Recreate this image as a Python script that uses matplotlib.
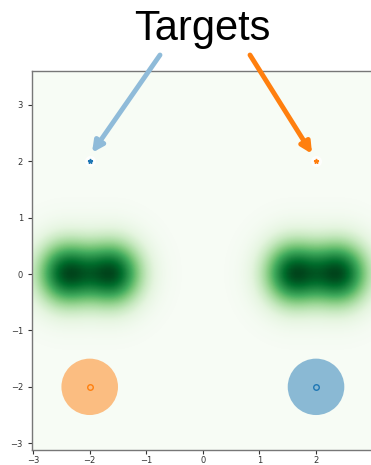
import numpy as np
import matplotlib
matplotlib.use('Agg')
import matplotlib.pyplot as plt

# данные
blob_x = [-2.45, -1.6, 1.6, 2.45]   # центры гауссиан
blob_y = [0.0, 0.0, 0.0, 0.0]
blob_sx = 0.37
blob_sy = 0.41
target_x = [-2, 2]
target_y = [2, 2]
target_colors = ['tab:blue', 'tab:orange']
agent_x = [-2, 2]
agent_y = [-2, -2]
agent_colors = ['tab:orange', 'tab:blue']
agent_radius = 0.5
ticks = [-3, -2, -1, 0, 1, 2, 3]

fig = plt.figure(figsize=(3.71, 4.65), dpi=100)
W, H = 371, 465
ax = fig.add_axes([32 / W, 15 / H, (372.6 - 32) / W, (450 - 71) / H])
xlim = (-3.02, 3.0)
ylim = (-3.12, 3.6)

# плотность
gx = np.linspace(xlim[0], xlim[1], 90)
gy = np.linspace(ylim[0], ylim[1], 100)
XX, YY = np.meshgrid(gx, gy)
Z = np.zeros_like(XX)
for bx, by in zip(blob_x, blob_y):
    Z += np.exp(-(XX - bx) ** 2 / (2 * blob_sx ** 2) - (YY - by) ** 2 / (2 * blob_sy ** 2))
ax.imshow(Z, cmap='Greens', origin='lower', extent=(xlim[0], xlim[1], ylim[0], ylim[1]),
          aspect='auto', interpolation='bilinear', vmin=0, vmax=Z.max())

for x, y, c in zip(agent_x, agent_y, agent_colors):
    ax.add_patch(plt.Circle((x, y), agent_radius, color=c, alpha=0.5, lw=0))
    ax.plot(x, y, 'o', mfc='none', mec=c, ms=4, mew=1)

for x, y, c in zip(target_x, target_y, target_colors):
    ax.plot(x, y, 'o', color='white', ms=7, alpha=0.8)
    ax.plot(x, y, '*', color=c, ms=3.5)

ax.set_xlim(xlim)
ax.set_ylim(ylim)
ax.set_xticks(ticks)
ax.set_yticks(ticks)
ax.tick_params(labelsize=6, colors='#333333', length=3, width=0.8)
ax.tick_params(axis='x', pad=1.5)
for s in ax.spines.values():
    s.set_color('#777777')
    s.set_linewidth(1)

fig.text(202 / W, 1 - 29 / H, 'Targets', fontsize=30, family='Liberation Sans',
         ha='center', va='center')

# стрелки
arrow_start = [(160, 55), (250, 55)]
arrow_colors = ['#8fbbd9', '#ff7f0e']
arrow_end = [(-1.96, 2.15), (1.93, 2.13)]
for (sx, sy), (ex, ey), c in zip(arrow_start, arrow_end, arrow_colors):
    ax.annotate('', xy=(ex, ey), xycoords='data',
                xytext=(sx / W, 1 - sy / H), textcoords='figure fraction',
                arrowprops=dict(arrowstyle='-|>', lw=3.5, color=c, mutation_scale=16,
                                shrinkA=0, shrinkB=0),
                annotation_clip=False)

fig.savefig('out.png', dpi=100)
